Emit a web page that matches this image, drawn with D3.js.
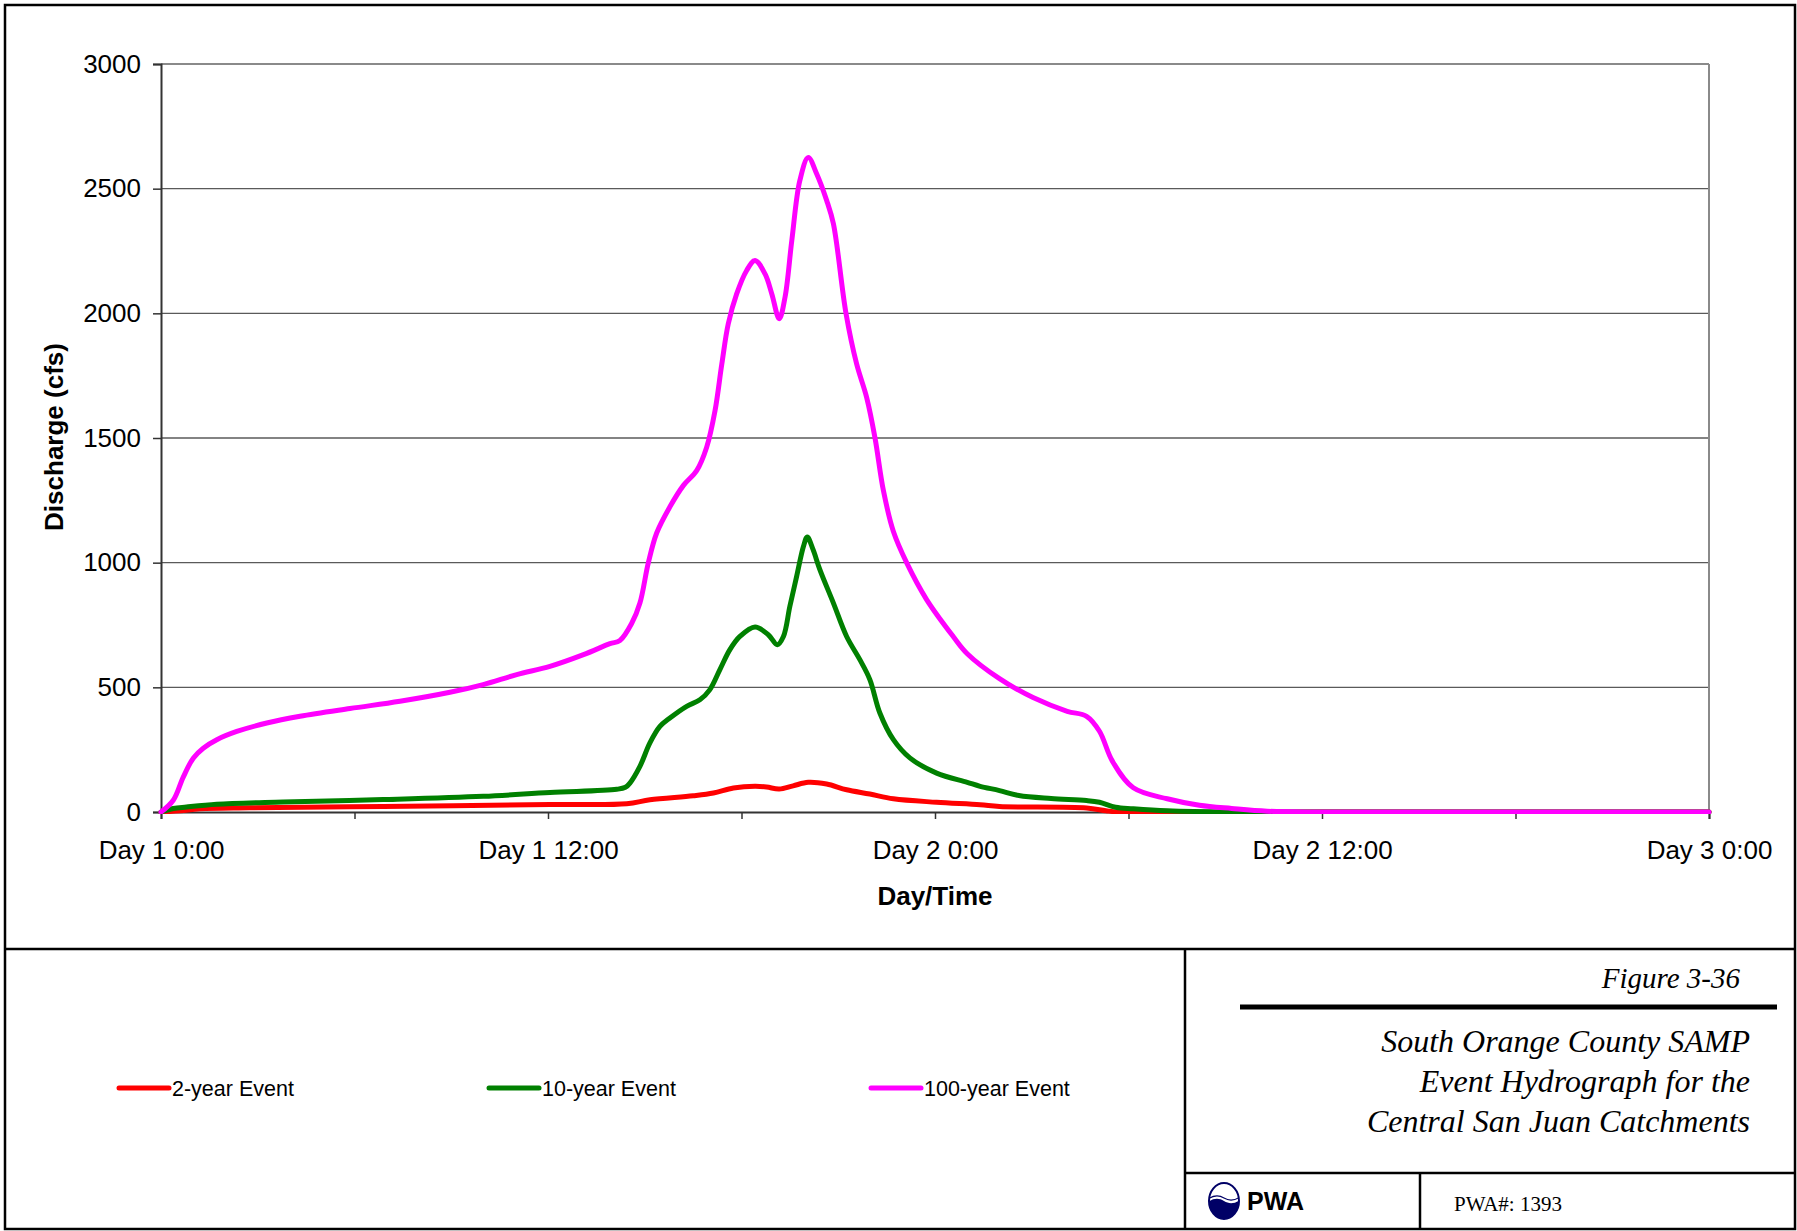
<!DOCTYPE html>
<html>
<head>
<meta charset="utf-8">
<script src="https://cdn.jsdelivr.net/npm/d3@7"></script>
<style>
  html, body { margin: 0; padding: 0; background: #fff; }
  svg { display: block; }
  .sans { font-family: "Liberation Sans", Arial, sans-serif; }
  .serif { font-family: "Liberation Serif", "Times New Roman", serif; }
</style>
</head>
<body>
<svg id="chart" width="1797" height="1231"></svg>
<script>
// ---------------- DATA (hours from Day 1 0:00, discharge in cfs) ----------------
const hours2 = [0,0.6,1.2,2.75,6.89,12.06,14.44,15.16,16.5,17.13,17.75,18.42,18.78,19.17,19.6,20.07,20.64,21.26,21.98,22.71,24.05,25.4,26.0,28.7,29.3,29.7,36,48];
const q2     = [0,5,13,17,22,30,33,49,65,76,96,103,100,92,105,119,112,89,72,53,39,29,22,16,5,0,0,0];

const hours10 = [0,0.38,0.79,1.73,3.79,6.89,9.99,12.06,14.13,14.4,14.54,14.85,15.16,15.47,15.78,16.3,16.71,17.02,17.33,17.64,17.95,18.42,18.83,19.11,19.3,19.5,19.71,19.92,20.04,20.22,20.43,20.85,21.26,21.67,21.98,22.29,22.71,23.22,24.05,25.0,25.4,26.0,26.6,27.6,28.7,29.1,29.6,30.15,31.2,33.2,40,48];
const q10     = [0,14,20,31,40,50,63,78,91,99,116,183,277,343,377,424,450,491,571,651,704,742,711,671,704,825,945,1065,1103,1052,972,838,704,611,531,397,290,217,156,119,103,86,66,54,46,39,19,13,5,0,0,0];

const hours100 = [0,0.38,0.69,1.0,1.31,1.73,2.35,3.28,4.31,5.86,7.41,8.96,9.99,11.03,12.06,13.1,13.92,14.23,14.6,14.85,15.11,15.37,15.78,16.2,16.61,16.92,17.18,17.39,17.59,17.85,18.16,18.42,18.73,18.94,19.17,19.35,19.56,19.81,20.07,20.33,20.64,20.85,21.24,21.57,21.88,22.14,22.4,22.71,23.12,23.74,24.57,25.0,26.0,27.04,28.1,28.7,29.1,29.5,30.15,31.2,32.2,33.2,34.3,36,42,48];
const q100     = [0,47,140,216,256,290,323,357,384,415,444,480,511,551,584,631,675,688,758,838,999,1119,1224,1310,1369,1463,1610,1797,1958,2078,2172,2212,2158,2078,1978,2065,2292,2533,2625,2560,2453,2359,2000,1797,1663,1500,1289,1125,1000,852,703,635,535,459,404,384,324,204,97,53,27,14,3,0,0,0];

const seriesNames  = ["2-year Event", "10-year Event", "100-year Event"];
const seriesColors = ["#ff0000", "#008000", "#ff00ff"];

const yTicks = [0, 500, 1000, 1500, 2000, 2500, 3000];
const xTicks = [0, 6, 12, 18, 24, 30, 36, 42, 48];
const xTickLabels = {0: "Day 1 0:00", 12: "Day 1 12:00", 24: "Day 2 0:00", 36: "Day 2 12:00", 48: "Day 3 0:00"};

const titleLines = ["South Orange County SAMP", "Event Hydrograph for the", "Central San Juan Catchments"];
const figureLabel = "Figure 3-36";
const projectLabel = "PWA#: 1393";

// ---------------- LAYOUT ----------------
const svg = d3.select("#chart");
const plot = {left: 161, right: 1709, top: 64, bottom: 812};

const x = d3.scaleLinear().domain([0, 48]).range([plot.left, plot.right]);
const y = d3.scaleLinear().domain([0, 3000]).range([plot.bottom, plot.top]);

// outer frame and dividers
svg.append("rect").attr("x", 5).attr("y", 5).attr("width", 1790).attr("height", 1224)
  .attr("fill", "none").attr("stroke", "#000").attr("stroke-width", 2.5);
const frameLines = [
  [5, 949, 1795, 949],
  [1185, 949, 1185, 1229],
  [1185, 1173, 1795, 1173],
  [1420, 1173, 1420, 1229]
];
svg.selectAll("line.frame").data(frameLines).enter().append("line")
  .attr("class", "frame")
  .attr("x1", d => d[0]).attr("y1", d => d[1]).attr("x2", d => d[2]).attr("y2", d => d[3])
  .attr("stroke", "#000").attr("stroke-width", 2.5);

// gridlines
svg.append("g").selectAll("line").data(yTicks.filter(d => d > 0)).enter().append("line")
  .attr("x1", plot.left).attr("x2", plot.right)
  .attr("y1", d => y(d)).attr("y2", d => y(d))
  .attr("stroke", "#5a5a5a").attr("stroke-width", 1.4);

// plot border right / top
svg.append("line").attr("x1", plot.right).attr("x2", plot.right).attr("y1", plot.top).attr("y2", plot.bottom)
  .attr("stroke", "#8a8a8a").attr("stroke-width", 2);
svg.append("line").attr("x1", plot.left).attr("x2", plot.right).attr("y1", plot.top).attr("y2", plot.top)
  .attr("stroke", "#8a8a8a").attr("stroke-width", 2);

// y axis
const yAxis = d3.axisLeft(y).tickValues(yTicks).tickSize(8).tickPadding(12).tickFormat(d3.format("d"));
const gy = svg.append("g").attr("transform", `translate(${plot.left},0)`).call(yAxis);
gy.select(".domain").attr("stroke", "#333").attr("stroke-width", 2);
gy.selectAll(".tick line").attr("stroke", "#333").attr("stroke-width", 1.5);
gy.selectAll("text").attr("class", "sans").style("font-size", "26px").attr("fill", "#000");

// x axis
const xAxis = d3.axisBottom(x).tickValues(xTicks).tickSize(7).tickFormat(d => xTickLabels[d] || "");
const gx = svg.append("g").attr("transform", `translate(0,${plot.bottom})`).call(xAxis);
gx.select(".domain").attr("stroke", "#333").attr("stroke-width", 2);
gx.selectAll(".tick line").attr("stroke", "#333").attr("stroke-width", 1.5);
gx.selectAll("text").attr("class", "sans").style("font-size", "26px").attr("fill", "#000")
  .attr("y", 47).attr("dy", 0);

// axis titles
svg.append("text").attr("class", "sans")
  .attr("x", (plot.left + plot.right) / 2).attr("y", 905)
  .attr("text-anchor", "middle").style("font-size", "26px").style("font-weight", "bold")
  .text("Day/Time");
svg.append("text").attr("class", "sans")
  .attr("transform", "translate(63,437) rotate(-90)")
  .attr("text-anchor", "middle").style("font-size", "26px").style("font-weight", "bold")
  .text("Discharge (cfs)");

// lines
const series = [
  {h: hours2, q: q2},
  {h: hours10, q: q10},
  {h: hours100, q: q100}
];
const line = d3.line()
  .x(d => x(d[0])).y(d => y(d[1]))
  .curve(d3.curveCatmullRom.alpha(0.5));
const clipId = "plotclip";
svg.append("clipPath").attr("id", clipId).append("rect")
  .attr("x", plot.left - 3).attr("y", plot.top - 10).attr("width", plot.right - plot.left + 6).attr("height", plot.bottom - plot.top + 12);
svg.append("g").attr("clip-path", `url(#${clipId})`)
  .selectAll("path").data(series).enter().append("path")
  .attr("d", s => line(s.h.map((h, i) => [h, s.q[i]])))
  .attr("fill", "none")
  .attr("stroke", (s, i) => seriesColors[i])
  .attr("stroke-width", 5)
  .attr("stroke-linejoin", "round")
  .attr("stroke-linecap", "round");

// legend
const legendX = [119, 489, 871];
const lg = svg.append("g").selectAll("g").data(seriesNames).enter().append("g")
  .attr("transform", (d, i) => `translate(${legendX[i]},1088)`);
lg.append("line").attr("x1", 0).attr("x2", 50).attr("y1", 0).attr("y2", 0)
  .attr("stroke", (d, i) => seriesColors[i]).attr("stroke-width", 5).attr("stroke-linecap", "round");
lg.append("text").attr("class", "sans").attr("x", 53).attr("y", 8)
  .style("font-size", "21.5px").attr("fill", "#000").text(d => d);

// title block
svg.append("text").attr("class", "serif").attr("x", 1740).attr("y", 988)
  .attr("text-anchor", "end").style("font-size", "29px").style("font-style", "italic")
  .text(figureLabel);
svg.append("line").attr("x1", 1240).attr("x2", 1777).attr("y1", 1007).attr("y2", 1007)
  .attr("stroke", "#000").attr("stroke-width", 5);
svg.append("g").selectAll("text").data(titleLines).enter().append("text")
  .attr("class", "serif").attr("x", 1750).attr("y", (d, i) => 1052 + i * 40)
  .attr("text-anchor", "end").style("font-size", "32px").style("font-style", "italic")
  .text(d => d);

// PWA logo
const logo = svg.append("g").attr("transform", "translate(1224,1201)");
const navy = "#000066";
logo.append("clipPath").attr("id", "logoclip").append("ellipse").attr("rx", 15).attr("ry", 18);
logo.append("ellipse").attr("rx", 15).attr("ry", 18).attr("fill", "#fff");
logo.append("path").attr("clip-path", "url(#logoclip)")
  .attr("d", "M-16,1 C-10,-3 -5,-3 0,0 C5,3 10,3 16,-1 L16,20 L-16,20 Z")
  .attr("fill", navy);
logo.append("path").attr("clip-path", "url(#logoclip)")
  .attr("d", "M-16,-2 C-10,-6 -5,-6 0,-3 C5,0 10,0 16,-4")
  .attr("fill", "none").attr("stroke", navy).attr("stroke-width", 1.2);
logo.append("ellipse").attr("rx", 15).attr("ry", 18).attr("fill", "none").attr("stroke", navy).attr("stroke-width", 2);
svg.append("text").attr("class", "sans").attr("x", 1247).attr("y", 1210)
  .style("font-size", "25px").style("font-weight", "bold").text("PWA");
svg.append("text").attr("class", "serif").attr("x", 1454).attr("y", 1211)
  .style("font-size", "21px").text(projectLabel);
</script>
</body>
</html>
